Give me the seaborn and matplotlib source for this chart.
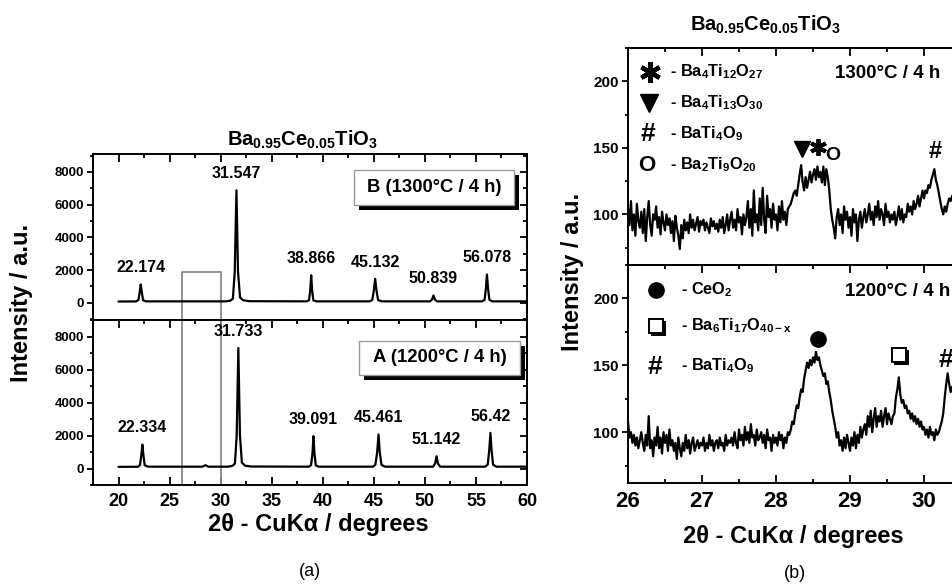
import numpy as np
import pandas as pd
import matplotlib
matplotlib.use("Agg")
import matplotlib.pyplot as plt
import seaborn as sns
from matplotlib.patches import Rectangle
from matplotlib.ticker import MultipleLocator
import matplotlib.patheffects as pe

# ---------------- panel (a): full XRD patterns (traced polylines) ----------------
b_two_theta = [20.0, 21.7, 21.95, 22.07, 22.174, 22.28, 22.4, 22.7,
               30.5, 30.95, 31.2, 31.38, 31.547, 31.7, 31.9, 32.2, 32.8,
               38.4, 38.65, 38.77, 38.866, 38.96, 39.08, 39.4,
               44.6, 44.85, 45.0, 45.132, 45.26, 45.42, 45.8,
               50.5, 50.7, 50.839, 50.98, 51.2,
               55.6, 55.85, 55.97, 56.078, 56.19, 56.32, 56.6, 60.0]
b_counts = [80, 85, 170, 650, 1120, 650, 160, 90,
            90, 130, 260, 1900, 6880, 1900, 330, 160, 100,
            90, 150, 750, 1690, 750, 150, 90,
            90, 180, 750, 1470, 750, 170, 90,
            90, 200, 450, 200, 90,
            90, 180, 850, 1730, 850, 180, 90, 90]
b_peak_pos = [22.174, 31.547, 38.866, 45.132, 50.839, 56.078]
b_peak_counts = [1120, 6880, 1690, 1470, 450, 1730]
b_peak_labels = ["22.174", "31.547", "38.866", "45.132", "50.839", "56.078"]

a_two_theta = [20.0, 21.9, 22.1, 22.23, 22.334, 22.44, 22.56, 22.9,
               28.2, 28.5, 28.8,
               30.7, 31.15, 31.4, 31.57, 31.733, 31.89, 32.08, 32.4, 33.0,
               38.6, 38.85, 38.99, 39.091, 39.19, 39.32, 39.6,
               44.9, 45.15, 45.33, 45.461, 45.58, 45.75, 46.1,
               50.8, 51.0, 51.142, 51.28, 51.5,
               55.9, 56.15, 56.3, 56.42, 56.53, 56.68, 57.0, 60.0]
a_counts = [100, 105, 200, 800, 1450, 800, 200, 110,
            110, 200, 110,
            110, 160, 300, 2000, 7300, 2000, 350, 170, 120,
            110, 190, 900, 1960, 900, 190, 110,
            110, 220, 1000, 2060, 1000, 220, 110,
            110, 300, 740, 300, 110,
            110, 230, 1100, 2160, 1100, 230, 110, 110]
a_peak_pos = [22.334, 31.733, 39.091, 45.461, 51.142, 56.42]
a_peak_counts = [1450, 7300, 1960, 2060, 740, 2160]
a_peak_labels = ["22.334", "31.733", "39.091", "45.461", "51.142", "56.42"]

# ---------------- panel (b): slow scans 26-30.38 deg, step 0.02 ----------------
scan_start = 26.0
scan_step = 0.02
scan_1300 = [105, 92, 110, 88, 100, 84, 108, 95, 90, 102,
             86, 104, 80, 98, 110, 92, 84, 100, 96, 106,
             90, 98, 85, 102, 94, 88, 100, 92, 97, 86,
             95, 80, 99, 90, 84, 74, 92, 82, 96, 88,
             94, 86, 100, 90, 96, 88, 93, 98, 87, 95,
             92, 96, 88, 94, 90, 86, 97, 91, 95, 89,
             93, 87, 96, 90, 98, 86, 92, 100, 88, 96,
             102, 90, 96, 88, 104, 94, 98, 85, 100, 92,
             98, 110, 90, 104, 84, 118, 94, 100, 88, 112,
             92, 120, 96, 86, 114, 98, 104, 90, 108, 96,
             100, 88, 106, 94, 110, 96, 102, 92, 104, 106,
             108, 112, 116, 118, 114, 122, 130, 137, 124, 118,
             128, 120, 126, 132, 124, 130, 134, 126, 136, 128,
             132, 124, 136, 122, 134, 128, 118, 104, 96, 90,
             82, 98, 104, 92, 100, 86, 106, 96, 102, 90,
             98, 84, 104, 94, 100, 80, 96, 102, 90, 98,
             104, 94, 100, 108, 96, 102, 92, 106, 98, 110,
             96, 104, 100, 92, 108, 98, 102, 94, 100, 96,
             102, 92, 98, 106, 96, 104, 94, 100, 98, 108,
             102, 106, 100, 110, 104, 108, 114, 106, 112, 118,
             112, 118, 116, 122, 120, 126, 130, 134, 126, 122,
             116, 110, 104, 100, 106, 102, 108, 112, 110, 114]
scan_1200 = [108, 96, 100, 92, 98, 90, 96, 88, 94, 100,
             92, 86, 98, 90, 112, 88, 94, 82, 96, 90,
             104, 88, 96, 84, 100, 92, 98, 86, 102, 90,
             94, 86, 92, 80, 96, 88, 82, 92, 86, 98,
             88, 94, 84, 92, 96, 86, 90, 94, 88, 92,
             90, 96, 86, 92, 88, 98, 90, 94, 86, 92,
             94, 88, 96, 90, 92, 86, 98, 90, 94, 92,
             96, 90, 100, 92, 88, 102, 94, 98, 90, 104,
             94, 100, 92, 106, 96, 98, 90, 102, 94, 96,
             100, 92, 98, 88, 102, 94, 96, 86, 98, 92,
             96, 90, 100, 94, 98, 88, 96, 92, 100, 98,
             102, 108, 106, 114, 120, 118, 126, 132, 130, 140,
             146, 152, 148, 154, 150, 156, 152, 160, 154, 156,
             150, 146, 142, 144, 136, 138, 130, 124, 116, 110,
             104, 96, 100, 90, 94, 86, 96, 88, 98, 92,
             86, 96, 90, 100, 88, 98, 92, 104, 96, 102,
             106, 98, 112, 104, 116, 100, 110, 118, 104, 112,
             108, 116, 104, 112, 118, 106, 114, 110, 106, 112,
             114, 126, 132, 141, 128, 122, 124, 118, 120, 114,
             116, 110, 114, 108, 112, 106, 110, 104, 108, 102,
             104, 98, 102, 96, 104, 98, 100, 94, 102, 98,
             100, 104, 108, 114, 126, 136, 144, 136, 130, 134]
scan_two_theta = np.round(scan_start + scan_step * np.arange(len(scan_1300)), 2)

# ---------------- style ----------------
sns.set_theme(style="ticks")
plt.rcParams.update({
    "font.weight": "bold",
    "axes.edgecolor": "black",
    "axes.linewidth": 1.4,
    "text.color": "black",
    "xtick.color": "black",
    "ytick.color": "black",
    "axes.facecolor": "white",
    "figure.facecolor": "white",
    "mathtext.fontset": "custom",
    "mathtext.rm": "Liberation Sans:bold",
    "mathtext.it": "Liberation Sans:bold",
    "mathtext.bf": "Liberation Sans:bold",
    "mathtext.sf": "Liberation Sans:bold",
})
plt.rcParams["font.family"] = ["Liberation Sans", "DejaVu Sans"]

W, H = 953, 587
fig = plt.figure(figsize=(W / 100, H / 100), dpi=100)


def add_ax(x0, y0, x1, y1):
    return fig.add_axes([x0 / W, 1 - y1 / H, (x1 - x0) / W, (y1 - y0) / H])


def ftext(px, py, s, **kw):
    fig.text(px / W, 1 - py / H, s, **kw)


def fig_rect(x0, y0, x1, y1, **kw):
    fig.add_artist(Rectangle((x0 / W, 1 - y1 / H), (x1 - x0) / W, (y1 - y0) / H,
                             transform=fig.transFigure, **kw))


def to_data(ax, px, py):
    return ax.transData.inverted().transform((px, H - py))


def style(ax, xmaj, xmin, ymaj, ymin, xsize, ysize, top_panel, right_ticks=True):
    ax.xaxis.set_major_locator(MultipleLocator(xmaj))
    ax.xaxis.set_minor_locator(MultipleLocator(xmin))
    ax.yaxis.set_major_locator(MultipleLocator(ymaj))
    ax.yaxis.set_minor_locator(MultipleLocator(ymin))
    ax.tick_params(axis="x", which="both", direction="in", top=True,
                   bottom=not top_panel, labelbottom=not top_panel,
                   labelsize=xsize, width=1.3, pad=6)
    ax.tick_params(axis="x", which="major", length=5.5)
    ax.tick_params(axis="x", which="minor", length=3)
    ax.tick_params(axis="y", which="both", direction="out", left=True, right=False,
                   labelsize=ysize, width=1.3, pad=2)
    ax.tick_params(axis="y", which="major", length=4.5)
    ax.tick_params(axis="y", which="minor", length=2.5)
    ax.set_xlabel("")
    ax.set_ylabel("")
    if right_ticks:
        sec = ax.secondary_yaxis("right")
        sec.yaxis.set_major_locator(MultipleLocator(ymaj))
        sec.yaxis.set_minor_locator(MultipleLocator(ymin))
        sec.tick_params(axis="y", which="both", direction="in", labelright=False, width=1.3)
        sec.tick_params(axis="y", which="major", length=5)
        sec.tick_params(axis="y", which="minor", length=3)
        sec.spines["right"].set_linewidth(1.4)
    else:
        ax.spines["right"].set_visible(False)


# ---------------- panel (a) ----------------
axa_top = add_ax(93, 154, 527, 320)
axa_bot = add_ax(93, 320, 527, 485)

for ax, tt, cc, pp, pc, pl, ylim in [
        (axa_top, b_two_theta, b_counts, b_peak_pos, b_peak_counts, b_peak_labels, (-1050, 9100)),
        (axa_bot, a_two_theta, a_counts, a_peak_pos, a_peak_counts, a_peak_labels, (-1000, 9000))]:
    df = pd.DataFrame({"two_theta": tt, "counts": cc})
    sns.lineplot(data=df, x="two_theta", y="counts", ax=ax, color="black",
                 linewidth=1.6, sort=False, estimator=None, legend=False)
    ax.set_xlim(17.5, 60)
    ax.set_ylim(*ylim)
    for pos, val, lbl in zip(pp, pc, pl):
        ax.annotate(lbl, xy=(pos, val), xytext=(0, 12), textcoords="offset points",
                    ha="center", va="center", fontsize=11.5)

style(axa_top, 5, 2.5, 2000, 1000, 13, 9.5, True)
style(axa_bot, 5, 2.5, 2000, 1000, 13, 9.5, False)

# grey zoom window (26.25-30 deg)
gray = "#8a8a8a"
axa_top.plot([26.25, 26.25, 30, 30], [-1050, 1900, 1900, -1050], color=gray, lw=1.3, zorder=1)
axa_bot.axvline(26.25, color=gray, lw=1.3, zorder=1)
axa_bot.axvline(30, color=gray, lw=1.3, zorder=1)

# shadowed label boxes
fig_rect(359, 175, 519, 210, facecolor="black", edgecolor="none")
fig_rect(354, 170, 514, 205, facecolor="white", edgecolor="#9a9a9a", lw=1)
ftext(434, 188, "B (1300°C / 4 h)", ha="center", va="center", fontsize=13.3)
fig_rect(364, 346, 525, 380, facecolor="black", edgecolor="none")
fig_rect(359, 341, 520, 375, facecolor="white", edgecolor="#9a9a9a", lw=1)
ftext(440, 358, "A (1200°C / 4 h)", ha="center", va="center", fontsize=13.3)

ftext(227, 140, r"$\mathrm{Ba_{0.95}Ce_{0.05}TiO_3}$", ha="left", va="center", fontsize=14.5)
ftext(22, 303, "Intensity / a.u.", rotation=90, ha="center", va="center", fontsize=17)
ftext(318, 525, "2θ - CuKα / degrees", ha="center", va="center", fontsize=17)
ftext(310, 572, "(a)", ha="center", va="center", fontsize=13, fontweight="normal")

# ---------------- panel (b) ----------------
axb_top = add_ax(628, 48, 953, 265)
axb_bot = add_ax(628, 265, 953, 483)
for ax, sc in [(axb_top, scan_1300), (axb_bot, scan_1200)]:
    df = pd.DataFrame({"two_theta": scan_two_theta, "counts": sc})
    sns.lineplot(data=df, x="two_theta", y="counts", ax=ax, color="black",
                 linewidth=1.6, sort=False, estimator=None, legend=False)
    ax.set_xlim(26, 26 + 325 / 74)
    ax.set_ylim(62, 225)

style(axb_top, 1, 0.5, 50, 25, 16, 11, True, right_ticks=False)
style(axb_bot, 1, 0.5, 50, 25, 16, 11, False, right_ticks=False)


def mark(ax, px, py, **kw):
    x, y = to_data(ax, px, py)
    ax.plot([x], [y], clip_on=False, color="black", linestyle="none", **kw)


def atext(ax, px, py, s, **kw):
    x, y = to_data(ax, px, py)
    ax.text(x, y, s, ha="center", va="center", clip_on=False, **kw)


# top legend (1300 C)
mark(axb_top, 650, 72, marker=(6, 2, 0), ms=15, mew=3.2)
mark(axb_top, 649, 103, marker="v", ms=13)
atext(axb_top, 648, 134, "#", fontsize=19)
atext(axb_top, 647, 165, "O", fontsize=16)
leg_top = [r"- $\mathrm{Ba_4Ti_{12}O_{27}}$", r"- $\mathrm{Ba_4Ti_{13}O_{30}}$",
           r"- $\mathrm{BaTi_4O_9}$", r"- $\mathrm{Ba_2Ti_9O_{20}}$"]
for py, s in zip([72, 103, 134, 165], leg_top):
    x, y = to_data(axb_top, 670, py)
    axb_top.text(x, y, s, ha="left", va="center", fontsize=11.8)
x, y = to_data(axb_top, 835, 74)
axb_top.text(x, y, "1300°C / 4 h", ha="left", va="center", fontsize=13.5)
mark(axb_top, 802, 149, marker="v", ms=12)
mark(axb_top, 818, 147, marker=(6, 2, 0), ms=12, mew=2.8)
atext(axb_top, 833, 155, "O", fontsize=14)
atext(axb_top, 935, 151, "#", fontsize=17)

# bottom legend (1200 C)
mark(axb_bot, 656, 290, marker="o", ms=11)
shadow = [pe.SimpleLineShadow(offset=(1.8, -1.8), shadow_color="black", alpha=1.0), pe.Normal()]
x, y = to_data(axb_bot, 656, 326)
axb_bot.plot([x], [y], marker="s", ms=10, mfc="white", mec="black", mew=1.4,
             linestyle="none", clip_on=False, path_effects=shadow)
atext(axb_bot, 655, 367, "#", fontsize=19)
leg_bot = [r"- $\mathrm{CeO_2}$", r"- $\mathrm{Ba_6Ti_{17}O_{40-x}}$", r"- $\mathrm{BaTi_4O_9}$"]
for py, s in zip([290, 326, 366], leg_bot):
    x, y = to_data(axb_bot, 681, py)
    axb_bot.text(x, y, s, ha="left", va="center", fontsize=11.8)
x, y = to_data(axb_bot, 845, 292)
axb_bot.text(x, y, "1200°C / 4 h", ha="left", va="center", fontsize=13.5)
mark(axb_bot, 818, 339, marker="o", ms=11)
x, y = to_data(axb_bot, 899, 355)
axb_bot.plot([x], [y], marker="s", ms=10, mfc="white", mec="black", mew=1.4,
             linestyle="none", clip_on=False, path_effects=shadow)
atext(axb_bot, 946, 360, "#", fontsize=19)

ftext(690, 25, r"$\mathrm{Ba_{0.95}Ce_{0.05}TiO_3}$", ha="left", va="center", fontsize=14.5)
ftext(573, 272, "Intensity / a.u.", rotation=90, ha="center", va="center", fontsize=17)
ftext(793, 537, "2θ - CuKα / degrees", ha="center", va="center", fontsize=17)
ftext(795, 573, "(b)", ha="center", va="center", fontsize=13, fontweight="normal")

fig.savefig("out.png", dpi=100)
